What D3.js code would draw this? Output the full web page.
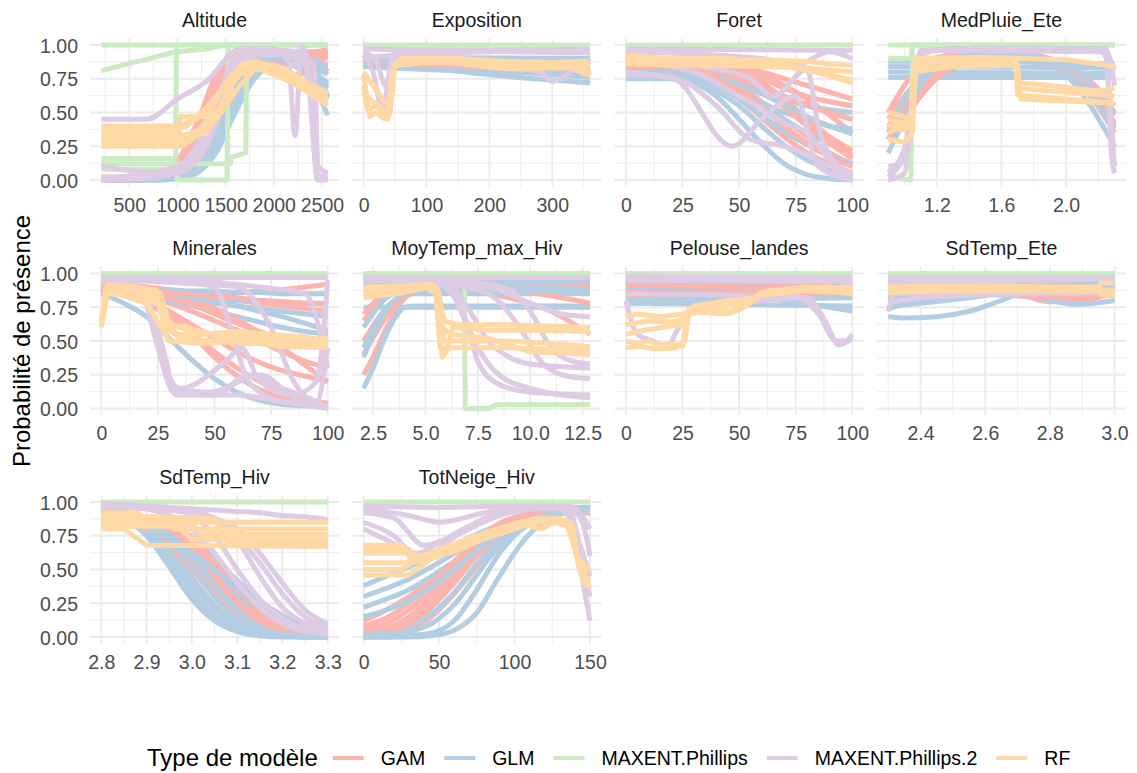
<!DOCTYPE html>
<html><head><meta charset="utf-8">
<script src="https://cdn.jsdelivr.net/npm/d3@7"></script>
<style>
body{margin:0;background:#fff;}
svg{display:block;font-family:"Liberation Sans",Arial,Helvetica,sans-serif;}
</style>
</head><body>
<svg id="chart" width="1137" height="773"></svg>
<script>
// ---------------- DATA ----------------
const models = ["GAM","GLM","MAXENT.Phillips","MAXENT.Phillips.2","RF"];
const panels = ["Altitude","Exposition","Foret","MedPluie_Ete","Minerales","MoyTemp_max_Hiv","Pelouse_landes","SdTemp_Ete","SdTemp_Hiv","TotNeige_Hiv"];
const xDomains = [[210,2560],[0,360],[0,100],[0.9,2.3],[0,100],[2.05,12.85],[0,100],[2.3,3.0],[2.8,3.3],[0,150]];
const xTicks = [[500,1000,1500,2000,2500],[0,100,200,300],[0,25,50,75,100],[1.2,1.6,2.0],[0,25,50,75,100],[2.5,5,7.5,10,12.5],[0,25,50,75,100],[2.4,2.6,2.8,3.0],[2.8,2.9,3.0,3.1,3.2,3.3],[0,50,100,150]];
const xTickLabels = [["500","1000","1500","2000","2500"],["0","100","200","300"],["0","25","50","75","100"],["1.2","1.6","2.0"],["0","25","50","75","100"],["2.5","5.0","7.5","10.0","12.5"],["0","25","50","75","100"],["2.4","2.6","2.8","3.0"],["2.8","2.9","3.0","3.1","3.2","3.3"],["0","50","100","150"]];
const yTicks = [0,0.25,0.5,0.75,1];
const yTickLabels = ["0.00","0.25","0.50","0.75","1.00"];

// Altitude
const altitudeGrid = [210,500,800,1000,1200,1400,1600,1800,2000,2200,2400,2560];
const altitude_GAM = [
 [0,0,0.02,0.1,0.4,0.78,0.93,0.96,0.96,0.95,0.95,0.97],
 [0,0,0.01,0.05,0.22,0.55,0.82,0.9,0.9,0.88,0.86,0.85],
 [0.02,0.02,0.04,0.12,0.35,0.65,0.85,0.88,0.86,0.85,0.88,0.92],
 [0,0,0.01,0.03,0.12,0.4,0.72,0.86,0.88,0.87,0.86,0.84],
 [0.01,0.01,0.03,0.08,0.3,0.7,0.9,0.92,0.9,0.9,0.93,0.95],
 [0,0,0.01,0.06,0.28,0.62,0.86,0.93,0.92,0.9,0.9,0.9],
 [0.01,0.02,0.05,0.14,0.42,0.74,0.9,0.94,0.94,0.93,0.92,0.93],
 [0,0,0.02,0.08,0.32,0.66,0.84,0.84,0.8,0.78,0.8,0.82]];
const altitude_GLM = [
 [0,0,0.01,0.03,0.1,0.3,0.6,0.82,0.88,0.85,0.72,0.48],
 [0,0,0.01,0.05,0.18,0.45,0.75,0.88,0.9,0.88,0.8,0.68],
 [0,0,0,0.01,0.05,0.2,0.5,0.75,0.85,0.86,0.8,0.72],
 [0,0.01,0.03,0.1,0.3,0.62,0.86,0.93,0.94,0.93,0.9,0.85],
 [0,0,0.02,0.06,0.2,0.52,0.8,0.9,0.9,0.86,0.78,0.6],
 [0,0,0,0.02,0.08,0.28,0.6,0.82,0.9,0.92,0.9,0.8],
 [0,0,0.01,0.04,0.14,0.38,0.68,0.86,0.9,0.88,0.82,0.7],
 [0,0,0,0.02,0.07,0.24,0.55,0.8,0.9,0.9,0.85,0.62],
 [0,0.01,0.02,0.08,0.25,0.56,0.82,0.9,0.92,0.9,0.85,0.78]];
const altitude_MAXENT = [
 [[210,1],[2560,1]],
 [[210,0.81],[600,0.88],[990,0.95],[1300,0.97],[1500,1],[2560,1]],
 [[210,0.16],[980,0.16],[990,1],[2560,1]],
 [[210,0.08],[980,0.08],[1000,0],[1515,0],[1530,1],[2560,1]],
 [[210,0.12],[1550,0.12],[1560,0.17],[1710,0.2],[1720,1],[2560,1]]];
const altitude_MAXENT2 = [
 [[210,0.45],[680,0.45],[1000,0.6],[1300,0.73],[1650,0.97],[2000,0.97],[2150,0.9],[2220,0.33],[2290,0.99],[2330,0.95],[2400,0.4],[2450,0.03],[2560,0.02]],
 [[210,0.1],[700,0.06],[1000,0.1],[1200,0.25],[1400,0.55],[1550,0.85],[1700,0.95],[2100,0.95],[2300,0.9],[2400,0.6],[2450,0.1],[2560,0.05]],
 [[210,0],[800,0.02],[1100,0.1],[1300,0.3],[1500,0.7],[1650,0.93],[2000,0.96],[2300,0.95],[2380,0.7],[2440,0.05],[2560,0]],
 [[210,0.02],[900,0.05],[1200,0.2],[1400,0.5],[1600,0.85],[1800,0.96],[2100,0.92],[2200,0.85],[2300,0.9],[2420,0.85],[2460,0.1],[2560,0.05]],
 [[210,0],[1000,0.05],[1300,0.25],[1500,0.6],[1700,0.9],[2000,0.93],[2300,0.88],[2400,0.5],[2450,0],[2560,0]]];
const altitude_RF = [
 [[210,0.38],[1000,0.38],[1100,0.4],[1250,0.5],[1400,0.6],[1500,0.72],[1600,0.8],[1750,0.82],[1900,0.85],[2000,0.8],[2150,0.75],[2300,0.7],[2450,0.6],[2560,0.62]],
 [[210,0.25],[1050,0.25],[1150,0.3],[1350,0.42],[1450,0.55],[1550,0.7],[1650,0.78],[1800,0.84],[2000,0.78],[2200,0.72],[2350,0.65],[2500,0.58],[2560,0.55]],
 [[210,0.32],[1000,0.32],[1200,0.36],[1400,0.5],[1550,0.65],[1600,0.8],[1750,0.86],[1900,0.82],[2100,0.8],[2300,0.68],[2450,0.62],[2560,0.6]],
 [[210,0.29],[1000,0.29],[1300,0.35],[1500,0.6],[1650,0.85],[1800,0.88],[2000,0.84],[2200,0.75],[2400,0.7],[2560,0.65]],
 [[210,0.35],[1020,0.35],[1030,0.47],[1300,0.47],[1450,0.65],[1600,0.78],[1800,0.83],[2000,0.8],[2250,0.72],[2450,0.62],[2560,0.58]],
 [[210,0.27],[1000,0.27],[1400,0.45],[1500,0.55],[1650,0.7],[1800,0.82],[2000,0.85],[2200,0.78],[2400,0.66],[2560,0.6]],
 [[210,0.4],[1000,0.4],[1200,0.45],[1400,0.62],[1550,0.75],[1700,0.84],[1900,0.86],[2100,0.83],[2300,0.74],[2560,0.64]]];

// Exposition
const exposition_GAM = [
 [[0,0.86],[360,0.82]],
 [[0,0.88],[100,0.86],[250,0.82],[360,0.79]],
 [[0,0.9],[200,0.88],[360,0.86]],
 [[0,0.84],[180,0.83],[360,0.8]]];
const exposition_GLM = [
 [[0,0.88],[50,0.86],[200,0.78],[360,0.72]],
 [[0,0.91],[360,0.9]],
 [[0,0.86],[100,0.84],[250,0.8],[360,0.76]],
 [[0,0.9],[50,0.89],[200,0.85],[360,0.82]],
 [[0,0.84],[200,0.8],[360,0.79]]];
const exposition_MAXENT = [[[0,1],[360,1]],[[0,0.99],[360,0.99]]];
const exposition_MAXENT2 = [
 [[0,0.93],[15,0.8],[30,0.52],[40,0.75],[50,0.93],[200,0.95],[360,0.96]],
 [[0,0.95],[20,0.88],[35,0.7],[48,0.94],[200,0.96],[360,0.97]],
 [[0,0.9],[40,0.92],[150,0.9],[280,0.8],[300,0.73],[330,0.8],[360,0.9]],
 [[0,0.97],[360,0.94]]];
const exposition_RF = [
 [[0,0.7],[5,0.55],[10,0.47],[20,0.5],[30,0.46],[38,0.45],[45,0.8],[55,0.88],[100,0.88],[200,0.87],[220,0.84],[260,0.86],[300,0.84],[340,0.86],[355,0.82],[360,0.78]],
 [[0,0.78],[5,0.62],[15,0.58],[25,0.55],[35,0.48],[42,0.5],[50,0.85],[100,0.87],[200,0.86],[240,0.85],[280,0.87],[320,0.85],[360,0.8]],
 [[0,0.65],[10,0.52],[20,0.56],[30,0.5],[40,0.47],[48,0.82],[60,0.9],[150,0.9],[220,0.88],[300,0.87],[350,0.88],[360,0.85]],
 [[0,0.8],[15,0.7],[30,0.6],[40,0.55],[50,0.86],[120,0.88],[210,0.83],[250,0.82],[290,0.83],[330,0.83],[360,0.77]]];

// Foret
const foretGrid = [0,10,20,30,40,50,60,70,80,90,100];
const foret_GAM = [
 [0.9,0.9,0.89,0.88,0.86,0.83,0.78,0.7,0.6,0.48,0.35],
 [0.85,0.85,0.84,0.82,0.78,0.7,0.58,0.45,0.32,0.2,0.12],
 [0.88,0.88,0.87,0.86,0.84,0.8,0.75,0.68,0.62,0.58,0.55],
 [0.8,0.8,0.79,0.76,0.7,0.6,0.46,0.32,0.2,0.12,0.05],
 [0.87,0.87,0.86,0.85,0.83,0.78,0.7,0.58,0.45,0.32,0.22],
 [0.82,0.82,0.82,0.8,0.78,0.74,0.68,0.62,0.56,0.5,0.45],
 [0.9,0.89,0.88,0.87,0.85,0.8,0.72,0.6,0.45,0.3,0.18],
 [0.86,0.86,0.85,0.83,0.8,0.75,0.66,0.54,0.4,0.27,0.16],
 [0.84,0.84,0.83,0.8,0.75,0.66,0.54,0.4,0.27,0.17,0.1],
 [0.89,0.89,0.88,0.87,0.86,0.84,0.8,0.75,0.7,0.65,0.6]];
const foret_GLM = [
 [0.76,0.76,0.75,0.72,0.62,0.45,0.27,0.12,0.04,0.01,0],
 [0.78,0.78,0.78,0.77,0.75,0.72,0.68,0.62,0.55,0.5,0.45],
 [0.8,0.8,0.79,0.77,0.73,0.66,0.56,0.45,0.35,0.27,0.22],
 [0.75,0.75,0.75,0.74,0.7,0.64,0.57,0.5,0.44,0.4,0.38],
 [0.83,0.83,0.82,0.8,0.77,0.72,0.66,0.6,0.55,0.52,0.5],
 [0.78,0.78,0.77,0.74,0.66,0.55,0.4,0.26,0.15,0.08,0.05],
 [0.8,0.8,0.79,0.76,0.7,0.6,0.48,0.36,0.26,0.18,0.12],
 [0.82,0.82,0.81,0.79,0.76,0.71,0.64,0.56,0.47,0.4,0.34]];
const foret_MAXENT = [[[0,1],[100,1]]];
const foret_MAXENT2 = [
 [[0,0.97],[100,0.96]],
 [[0,0.78],[20,0.76],[47,0.25],[60,0.45],[75,0.62],[85,0.1],[100,0]],
 [[0,0.8],[25,0.73],[40,0.55],[55,0.3],[70,0.25],[90,0.1],[100,0]],
 [[0,0.9],[40,0.82],[55,0.75],[65,0.62],[80,0.82],[85,0.4],[95,0.08],[100,0.02]],
 [[0,0.88],[30,0.8],[50,0.62],[58,0.55],[70,0.42],[80,0.35],[90,0.15],[100,0.05]],
 [[0,0.95],[60,0.9],[75,0.85],[90,0.95],[100,0.9]]];
const foret_RF = [
 [[0,0.92],[10,0.91],[20,0.9],[40,0.9],[60,0.89],[80,0.88],[90,0.86],[100,0.85]],
 [[0,0.88],[15,0.86],[30,0.87],[50,0.85],[70,0.84],[85,0.8],[100,0.74]],
 [[0,0.9],[20,0.88],[45,0.88],[70,0.86],[88,0.78],[100,0.72]],
 [[0,0.86],[30,0.85],[60,0.84],[80,0.83],[100,0.8]]];

// MedPluie_Ete
const medpluie_GAM = [
 [[0.9,0.45],[1.0,0.62],[1.1,0.75],[1.2,0.84],[1.4,0.92],[1.6,0.94],[1.8,0.9],[2.0,0.8],[2.15,0.62],[2.3,0.35]],
 [[0.9,0.38],[1.0,0.5],[1.1,0.65],[1.2,0.76],[1.35,0.86],[1.6,0.9],[1.8,0.88],[2.0,0.8],[2.2,0.62],[2.3,0.48]],
 [[0.9,0.5],[1.0,0.7],[1.1,0.85],[1.3,0.93],[1.6,0.95],[1.9,0.9],[2.1,0.78],[2.3,0.55]],
 [[0.9,0.4],[1.05,0.6],[1.2,0.8],[1.4,0.88],[1.7,0.9],[1.95,0.85],[2.15,0.7],[2.3,0.42]],
 [[0.9,0.3],[1.0,0.45],[1.1,0.62],[1.25,0.8],[1.45,0.88],[1.7,0.9],[1.9,0.85],[2.1,0.7],[2.3,0.4]]];
const medpluie_GLM = [
 [[0.9,0.3],[1.0,0.55],[1.1,0.78],[1.2,0.87],[1.4,0.93],[1.6,0.94],[1.8,0.9],[2.0,0.78],[2.15,0.55],[2.3,0.25]],
 [[0.9,0.76],[2.3,0.76]],
 [[0.9,0.8],[2.3,0.79]],
 [[0.9,0.84],[2.3,0.83]],
 [[0.9,0.88],[1.25,0.88],[2.3,0.86]],
 [[0.9,0.2],[1.0,0.45],[1.1,0.7],[1.25,0.86],[1.5,0.92],[1.7,0.92],[1.9,0.86],[2.1,0.7],[2.3,0.38]],
 [[0.9,0.35],[1.0,0.6],[1.15,0.82],[1.4,0.92],[1.7,0.93],[2.0,0.85],[2.2,0.65],[2.3,0.5]]];
const medpluie_MAXENT = [
 [[0.9,1],[2.3,1]],
 [[0.9,0.9],[1.04,0.9],[1.05,1],[2.3,1]],
 [[0.9,0.02],[1.04,0],[1.05,1],[2.3,1]]];
const medpluie_MAXENT2 = [
 [[0.9,0.02],[1.0,0.2],[1.05,0.6],[1.1,0.95],[1.3,0.97],[2.2,0.97],[2.25,0.9],[2.28,0.2],[2.3,0.05]],
 [[0.9,0.1],[0.98,0.12],[1.05,0.55],[1.1,0.96],[1.5,0.98],[2.24,0.97],[2.27,0.6],[2.3,0.1]],
 [[0.9,0],[1.0,0.05],[1.06,0.7],[1.12,0.96],[2.25,0.96],[2.3,0.7]],
 [[0.9,0.05],[1.02,0.3],[1.08,0.9],[1.2,0.96],[2.2,0.95],[2.26,0.92],[2.3,0.82]]];
const medpluie_RF = [
 [[0.9,0.35],[0.95,0.38],[1.0,0.37],[1.04,0.4],[1.06,0.86],[1.2,0.88],[1.5,0.89],[1.69,0.88],[1.7,0.68],[1.9,0.66],[2.1,0.64],[2.3,0.62]],
 [[0.9,0.45],[1.0,0.42],[1.05,0.5],[1.07,0.88],[1.4,0.9],[1.69,0.9],[1.7,0.63],[2.0,0.6],[2.2,0.58],[2.3,0.56]],
 [[0.9,0.3],[1.0,0.28],[1.05,0.35],[1.07,0.84],[1.3,0.87],[1.68,0.86],[1.7,0.72],[1.9,0.7],[2.2,0.66],[2.3,0.68]],
 [[0.9,0.5],[1.05,0.45],[1.07,0.9],[1.5,0.91],[2.0,0.89],[2.2,0.86],[2.3,0.84]],
 [[0.9,0.4],[1.04,0.4],[1.06,0.8],[1.3,0.84],[1.7,0.85],[1.72,0.6],[2.1,0.58],[2.3,0.57]]];

// Minerales
const mineralesGrid = [0,10,20,30,40,50,60,70,80,90,100];
const minerales_GAM = [
 [0.92,0.9,0.88,0.86,0.84,0.82,0.8,0.78,0.76,0.74,0.72],
 [0.9,0.87,0.83,0.78,0.72,0.65,0.58,0.5,0.42,0.35,0.3],
 [0.88,0.84,0.78,0.68,0.56,0.42,0.3,0.2,0.12,0.07,0.04],
 [0.9,0.88,0.86,0.84,0.8,0.74,0.66,0.56,0.45,0.32,0.2],
 [0.93,0.92,0.9,0.88,0.86,0.85,0.86,0.87,0.88,0.9,0.92],
 [0.88,0.85,0.8,0.7,0.55,0.38,0.24,0.14,0.08,0.04,0.02],
 [0.91,0.89,0.86,0.82,0.77,0.7,0.63,0.57,0.52,0.48,0.45],
 [0.9,0.86,0.8,0.72,0.62,0.52,0.42,0.34,0.28,0.24,0.2],
 [0.92,0.9,0.88,0.86,0.84,0.83,0.82,0.8,0.79,0.78,0.77]];
const minerales_GLM = [
 [0.85,0.78,0.68,0.52,0.36,0.22,0.12,0.06,0.03,0.02,0.01],
 [0.88,0.86,0.84,0.82,0.8,0.78,0.76,0.74,0.72,0.7,0.68],
 [0.9,0.87,0.84,0.8,0.76,0.72,0.68,0.64,0.6,0.57,0.55],
 [0.86,0.85,0.84,0.83,0.82,0.81,0.8,0.8,0.79,0.78,0.78],
 [0.9,0.88,0.86,0.84,0.82,0.79,0.76,0.72,0.68,0.63,0.58],
 [0.9,0.89,0.88,0.88,0.87,0.87,0.86,0.86,0.85,0.85,0.85]];
const minerales_MAXENT = [[[0,1],[100,1]]];
const minerales_MAXENT2 = [
 [[0,0.97],[100,0.97]],
 [[0,0.95],[10,0.94],[18,0.85],[25,0.45],[32,0.12],[45,0.1],[60,0.1],[80,0.05],[100,0]],
 [[0,0.96],[15,0.9],[22,0.7],[30,0.2],[35,0.15],[55,0.35],[62,0.45],[70,0.2],[85,0.1],[95,0.2],[100,0.95]],
 [[0,0.94],[20,0.8],[28,0.4],[33,0.1],[50,0.1],[65,0.25],[80,0.15],[95,0.05],[100,0]],
 [[0,0.97],[30,0.95],[50,0.9],[58,0.55],[65,0.2],[80,0.05],[100,0.02]],
 [[0,0.96],[35,0.93],[60,0.9],[75,0.6],[85,0.2],[95,0.05],[100,0.45]],
 [[0,0.97],[40,0.95],[70,0.9],[90,0.85],[100,0.3]],
 [[0,0.95],[18,0.9],[27,0.35],[34,0.15],[48,0.12],[70,0.25],[88,0.05],[100,0.02]]];
const minerales_RF = [
 [[0,0.62],[2,0.9],[8,0.88],[15,0.9],[22,0.85],[26,0.86],[30,0.62],[40,0.58],[50,0.55],[60,0.54],[75,0.52],[90,0.5],[100,0.52]],
 [[0,0.65],[2,0.88],[10,0.87],[20,0.83],[25,0.8],[28,0.6],[35,0.52],[50,0.5],[65,0.48],[80,0.5],[100,0.47]],
 [[0,0.6],[2,0.85],[12,0.84],[22,0.8],[27,0.75],[33,0.55],[45,0.55],[60,0.57],[75,0.55],[90,0.53],[100,0.5]],
 [[0,0.63],[3,0.92],[14,0.9],[24,0.88],[28,0.62],[38,0.6],[55,0.52],[70,0.5],[85,0.48],[100,0.49]],
 [[0,0.61],[3,0.87],[20,0.78],[30,0.5],[45,0.48],[60,0.5],[80,0.46],[100,0.45]]];

// MoyTemp_max_Hiv
const moytemp_GAM = [
 [[2.05,0.25],[2.5,0.38],[3,0.55],[3.5,0.7],[4,0.82],[4.5,0.88],[5,0.9],[7,0.88],[9,0.82],[11,0.72],[12.85,0.55]],
 [[2.05,0.5],[3,0.72],[4,0.85],[5,0.9],[8,0.9],[12.85,0.85]],
 [[2.05,0.65],[3,0.82],[4,0.9],[6,0.94],[9,0.95],[12.85,0.95]],
 [[2.05,0.7],[3,0.85],[4.5,0.93],[7,0.95],[10,0.93],[12.85,0.9]],
 [[2.05,0.4],[3,0.65],[4,0.82],[5,0.88],[8,0.89],[10,0.86],[12.85,0.78]]];
const moytemp_GLM = [
 [[2.05,0.75],[12.85,0.75]],
 [[2.05,0.85],[12.85,0.85]],
 [[2.05,0.92],[12.85,0.92]],
 [[2.05,0.15],[2.5,0.3],[3,0.5],[3.5,0.66],[4,0.75],[4.5,0.76],[12.85,0.76]],
 [[2.05,0.38],[2.5,0.55],[3,0.7],[3.5,0.8],[4,0.85],[5,0.87],[12.85,0.87]],
 [[2.05,0.6],[3,0.8],[4,0.88],[5,0.9],[8,0.9],[12.85,0.88]],
 [[2.05,0.45],[3,0.72],[4,0.85],[5,0.92],[7,0.93],[12.85,0.94]]];
const moytemp_MAXENT = [
 [[2.05,1],[12.85,1]],
 [[2.05,1],[6.85,1],[6.9,0],[8.0,0],[8.4,0.03],[12.85,0.03]]];
const moytemp_MAXENT2 = [
 [[2.05,0.97],[12.85,0.97]],
 [[2.05,0.97],[5,0.95],[6,0.9],[7,0.6],[7.5,0.35],[8.5,0.18],[10,0.12],[12.85,0.1]],
 [[2.05,0.96],[5.5,0.93],[6.5,0.8],[7.5,0.45],[8.5,0.25],[10,0.15],[12.85,0.08]],
 [[2.05,0.95],[6,0.92],[8,0.85],[9.5,0.6],[10.5,0.35],[11.5,0.25],[12.85,0.22]],
 [[2.05,0.97],[7,0.94],[9,0.88],[10,0.72],[11,0.45],[12,0.35],[12.85,0.33]],
 [[2.05,0.96],[8,0.9],[10,0.78],[11.5,0.7],[12.85,0.68]],
 [[2.05,0.95],[6,0.93],[7,0.75],[8,0.5],[9,0.38],[10,0.33],[12.85,0.3]]];
const moytemp_RF = [
 [[2.05,0.88],[3,0.88],[4,0.9],[5,0.92],[5.4,0.9],[5.6,0.83],[5.8,0.38],[6.0,0.42],[6.3,0.6],[8,0.58],[10,0.58],[12.85,0.57]],
 [[2.05,0.85],[3.5,0.86],[5,0.9],[5.5,0.88],[5.7,0.7],[5.9,0.5],[6.5,0.5],[9,0.5],[11,0.48],[12.85,0.46]],
 [[2.05,0.82],[4,0.86],[5.2,0.9],[5.6,0.86],[5.8,0.6],[6.2,0.55],[8,0.52],[10,0.42],[12.85,0.4]],
 [[2.05,0.9],[4.5,0.91],[5.3,0.92],[5.6,0.88],[5.9,0.65],[6.5,0.62],[9,0.62],[12.85,0.6]],
 [[2.05,0.86],[5,0.9],[5.5,0.85],[5.7,0.45],[6.3,0.45],[9,0.45],[12.85,0.43]]];

// Pelouse_landes
const pelouse_GAM = [
 [[0,0.95],[100,0.93]],
 [[0,0.9],[50,0.88],[100,0.83]],
 [[0,0.86],[100,0.85]],
 [[0,0.92],[60,0.9],[100,0.95]],
 [[0,0.82],[50,0.84],[100,0.86]]];
const pelouse_GLM = [
 [[0,0.93],[100,0.92]],
 [[0,0.88],[100,0.9]],
 [[0,0.78],[50,0.77],[100,0.76]],
 [[0,0.85],[50,0.83],[100,0.72]],
 [[0,0.8],[100,0.82]]];
const pelouse_MAXENT = [[[0,1],[100,1]]];
const pelouse_MAXENT2 = [
 [[0,0.98],[100,0.97]],
 [[0,0.8],[5,0.55],[12,0.5],[18,0.45],[22,0.56],[30,0.75],[60,0.8],[80,0.82],[88,0.65],[94,0.47],[100,0.52]],
 [[0,0.85],[40,0.84],[75,0.83],[85,0.7],[93,0.5],[97,0.5],[100,0.55]],
 [[0,0.95],[100,0.94]]];
const pelouse_RF = [
 [[0,0.5],[5,0.48],[10,0.5],[15,0.47],[20,0.48],[25,0.46],[27,0.7],[35,0.72],[45,0.7],[50,0.73],[55,0.78],[60,0.85],[70,0.86],[80,0.88],[90,0.87],[100,0.85]],
 [[0,0.55],[8,0.58],[16,0.6],[24,0.62],[27,0.72],[38,0.75],[46,0.72],[55,0.8],[62,0.86],[75,0.88],[88,0.9],[100,0.88]],
 [[0,0.62],[10,0.65],[20,0.64],[25,0.66],[28,0.74],[40,0.76],[50,0.78],[60,0.84],[72,0.86],[85,0.89],[100,0.9]],
 [[0,0.68],[5,0.7],[15,0.68],[26,0.7],[30,0.76],[45,0.8],[58,0.82],[63,0.87],[80,0.9],[100,0.87]],
 [[0,0.45],[6,0.46],[14,0.44],[22,0.45],[26,0.5],[28,0.72],[42,0.7],[50,0.74],[60,0.86],[75,0.87],[100,0.86]]];

// SdTemp_Ete
const sdete_GAM = [
 [[2.3,0.92],[2.5,0.9],[2.7,0.85],[2.8,0.79],[2.9,0.8],[3,0.86]],
 [[2.3,0.88],[2.5,0.89],[2.7,0.9],[2.9,0.93],[3,0.96]],
 [[2.3,0.85],[2.5,0.86],[2.65,0.84],[2.85,0.82],[3,0.84]],
 [[2.3,0.9],[2.6,0.93],[2.8,0.9],[3,0.88]]];
const sdete_GLM = [
 [[2.3,0.68],[2.35,0.67],[2.45,0.68],[2.55,0.72],[2.65,0.8],[2.7,0.84],[2.8,0.8],[2.88,0.77],[3,0.8]],
 [[2.3,0.74],[2.4,0.8],[2.5,0.84],[2.6,0.86],[2.8,0.87],[2.95,0.88],[3,0.92]],
 [[2.3,0.82],[2.5,0.84],[2.7,0.85],[3,0.86]],
 [[2.3,0.76],[2.4,0.78],[2.55,0.82],[2.7,0.87],[2.9,0.9],[3,0.93]],
 [[2.3,0.95],[3,0.94]]];
const sdete_MAXENT = [[[2.3,1],[3,1]]];
const sdete_MAXENT2 = [
 [[2.3,0.97],[3,0.97]],
 [[2.3,0.93],[2.5,0.94],[2.8,0.95],[3,0.96]],
 [[2.3,0.72],[2.32,0.85],[2.5,0.86],[2.8,0.87],[3,0.88]],
 [[2.3,0.78],[2.4,0.82],[2.6,0.84],[3,0.86]]];
const sdete_RF = [
 [[2.3,0.88],[2.5,0.89],[2.7,0.9],[2.9,0.89],[2.95,0.9],[2.96,0.87],[3,0.87]],
 [[2.3,0.9],[2.6,0.91],[2.8,0.9],[2.95,0.9],[2.96,0.93],[3,0.93]],
 [[2.3,0.86],[2.5,0.87],[2.8,0.87],[2.95,0.87],[2.96,0.84],[3,0.84]]];

// SdTemp_Hiv
const sdhivGrid = [2.8,2.85,2.9,2.95,3.0,3.05,3.1,3.15,3.2,3.25,3.3];
const sdhiv_GAM = [
 [0.9,0.88,0.84,0.76,0.6,0.4,0.22,0.1,0.05,0.02,0.01],
 [0.88,0.87,0.85,0.8,0.68,0.5,0.3,0.15,0.07,0.03,0.02],
 [0.87,0.86,0.82,0.72,0.55,0.35,0.18,0.08,0.03,0.01,0.01],
 [0.9,0.89,0.87,0.83,0.74,0.58,0.38,0.2,0.1,0.05,0.03],
 [0.89,0.88,0.86,0.8,0.66,0.46,0.26,0.12,0.05,0.02,0.01],
 [0.86,0.85,0.8,0.68,0.5,0.3,0.15,0.06,0.02,0.01,0],
 [0.88,0.87,0.86,0.82,0.72,0.55,0.35,0.18,0.08,0.04,0.02]];
const sdhiv_GLM = [
 [0.92,0.88,0.78,0.58,0.34,0.15,0.06,0.02,0.01,0,0],
 [0.94,0.9,0.82,0.66,0.44,0.24,0.1,0.04,0.02,0.01,0],
 [0.95,0.93,0.88,0.78,0.6,0.38,0.2,0.09,0.04,0.02,0.01],
 [0.9,0.86,0.8,0.72,0.6,0.45,0.3,0.18,0.1,0.06,0.04],
 [0.93,0.91,0.88,0.82,0.72,0.58,0.42,0.27,0.16,0.1,0.06],
 [0.92,0.87,0.75,0.52,0.28,0.12,0.04,0.01,0,0,0],
 [0.93,0.9,0.82,0.64,0.4,0.2,0.08,0.03,0.01,0,0],
 [0.94,0.92,0.86,0.72,0.52,0.3,0.14,0.06,0.02,0.01,0],
 [0.91,0.88,0.83,0.74,0.62,0.5,0.36,0.22,0.12,0.07,0.05]];
const sdhiv_MAXENT = [[1,1,1,1,1,1,1,1,1,1,1]];
const sdhiv_MAXENT2 = [
 [0.99,0.98,0.97,0.96,0.95,0.94,0.93,0.92,0.9,0.89,0.87],
 [0.98,0.98,0.97,0.95,0.9,0.75,0.5,0.28,0.14,0.06,0.03],
 [0.97,0.97,0.96,0.95,0.93,0.88,0.72,0.45,0.22,0.1,0.05],
 [0.98,0.97,0.95,0.9,0.8,0.62,0.4,0.22,0.1,0.04,0.02],
 [0.96,0.96,0.95,0.94,0.92,0.88,0.8,0.62,0.4,0.2,0.1],
 [0.97,0.96,0.95,0.94,0.92,0.86,0.74,0.55,0.32,0.15,0.07]];
const sdhiv_RF = [
 [[2.8,0.92],[2.88,0.92],[2.9,0.85],[3.3,0.85]],
 [[2.8,0.88],[2.95,0.88],[2.96,0.8],[3.3,0.8]],
 [[2.8,0.82],[2.97,0.82],[3.0,0.72],[3.3,0.72]],
 [[2.8,0.86],[3.0,0.84],[3.02,0.76],[3.3,0.76]],
 [[2.8,0.8],[2.85,0.8],[2.9,0.68],[3.3,0.67]],
 [[2.8,0.9],[3.05,0.88],[3.08,0.7],[3.3,0.7]]];

// TotNeige_Hiv
const neigeGrid = [0,15,30,45,60,75,90,105,120,135,145,150];
const neige_GAM = [
 [0,0.05,0.12,0.25,0.45,0.65,0.8,0.88,0.92,0.93,0.93,0.93],
 [0.05,0.1,0.2,0.35,0.52,0.68,0.8,0.88,0.91,0.92,0.92,0.92],
 [0.12,0.2,0.3,0.42,0.56,0.7,0.82,0.9,0.94,0.95,0.95,0.95],
 [0,0.02,0.06,0.15,0.32,0.52,0.7,0.83,0.9,0.92,0.92,0.92],
 [0.02,0.06,0.15,0.3,0.5,0.7,0.84,0.9,0.93,0.94,0.94,0.94],
 [0.08,0.14,0.25,0.4,0.56,0.72,0.84,0.9,0.92,0.93,0.93,0.93],
 [0.01,0.03,0.1,0.22,0.4,0.6,0.76,0.86,0.9,0.92,0.92,0.92]];
const neige_GLM = [
 [0,0,0.01,0.03,0.12,0.35,0.62,0.8,0.88,0.93,0.95,0.95],
 [0.38,0.45,0.52,0.6,0.68,0.76,0.83,0.88,0.92,0.95,0.96,0.96],
 [0.3,0.36,0.43,0.52,0.62,0.72,0.8,0.87,0.91,0.94,0.95,0.95],
 [0.22,0.28,0.35,0.45,0.56,0.68,0.78,0.86,0.9,0.93,0.94,0.94],
 [0.02,0.04,0.08,0.17,0.33,0.54,0.72,0.85,0.92,0.95,0.96,0.96],
 [0,0,0,0.01,0.05,0.18,0.45,0.7,0.86,0.93,0.95,0.95],
 [0.15,0.2,0.27,0.37,0.5,0.64,0.76,0.85,0.9,0.93,0.94,0.94],
 [0.01,0.02,0.04,0.1,0.24,0.46,0.68,0.83,0.9,0.93,0.94,0.94]];
const neige_MAXENT = [[[0,1],[150,1]]];
const neige_MAXENT2 = [
 [[0,0.97],[50,0.96],[100,0.97],[135,0.97],[145,0.9],[150,0.8]],
 [[0,0.85],[20,0.75],[38,0.57],[55,0.7],[80,0.88],[110,0.95],[130,0.95],[140,0.75],[147,0.3],[150,0.12]],
 [[0,0.8],[15,0.72],[35,0.62],[50,0.7],[75,0.85],[100,0.93],[128,0.96],[138,0.9],[145,0.55],[150,0.3]],
 [[0,0.92],[20,0.88],[40,0.68],[60,0.75],[90,0.9],[120,0.96],[135,0.95],[143,0.7],[150,0.45]],
 [[0,0.95],[30,0.9],[50,0.85],[80,0.92],[115,0.97],[135,0.96],[145,0.85],[150,0.6]]];
const neige_RF = [
 [[0,0.68],[25,0.68],[30,0.6],[40,0.55],[50,0.62],[60,0.66],[70,0.72],[80,0.76],[90,0.8],[100,0.82],[110,0.85],[120,0.86],[130,0.85],[138,0.8],[142,0.55],[145,0.45],[150,0.42]],
 [[0,0.46],[30,0.46],[35,0.5],[45,0.58],[55,0.62],[65,0.68],[80,0.74],[95,0.8],[110,0.84],[125,0.86],[135,0.82],[140,0.65],[145,0.5],[150,0.5]],
 [[0,0.55],[28,0.55],[38,0.6],[50,0.65],[65,0.7],[85,0.78],[100,0.84],[115,0.88],[130,0.88],[138,0.84],[143,0.5],[147,0.38],[150,0.4]],
 [[0,0.62],[30,0.62],[40,0.58],[55,0.64],[70,0.7],[90,0.78],[105,0.84],[118,0.8],[128,0.86],[137,0.82],[141,0.6],[150,0.48]],
 [[0,0.5],[25,0.5],[32,0.55],[48,0.6],[62,0.64],[78,0.72],[95,0.78],[112,0.85],[125,0.88],[135,0.84],[142,0.58],[150,0.36]],
 [[0,0.65],[30,0.65],[36,0.56],[46,0.6],[58,0.68],[72,0.74],[88,0.8],[102,0.83],[115,0.87],[128,0.84],[136,0.83],[141,0.62],[146,0.4],[150,0.4]]];

// ---------------- ASSEMBLY ----------------
const panelData = [
 {grid: altitudeGrid, curves: [altitude_GAM, altitude_GLM, altitude_MAXENT, altitude_MAXENT2, altitude_RF]},
 {grid: null, curves: [exposition_GAM, exposition_GLM, exposition_MAXENT, exposition_MAXENT2, exposition_RF]},
 {grid: foretGrid, curves: [foret_GAM, foret_GLM, foret_MAXENT, foret_MAXENT2, foret_RF]},
 {grid: null, curves: [medpluie_GAM, medpluie_GLM, medpluie_MAXENT, medpluie_MAXENT2, medpluie_RF]},
 {grid: mineralesGrid, curves: [minerales_GAM, minerales_GLM, minerales_MAXENT, minerales_MAXENT2, minerales_RF]},
 {grid: null, curves: [moytemp_GAM, moytemp_GLM, moytemp_MAXENT, moytemp_MAXENT2, moytemp_RF]},
 {grid: null, curves: [pelouse_GAM, pelouse_GLM, pelouse_MAXENT, pelouse_MAXENT2, pelouse_RF]},
 {grid: null, curves: [sdete_GAM, sdete_GLM, sdete_MAXENT, sdete_MAXENT2, sdete_RF]},
 {grid: sdhivGrid, curves: [sdhiv_GAM, sdhiv_GLM, sdhiv_MAXENT, sdhiv_MAXENT2, sdhiv_RF]},
 {grid: neigeGrid, curves: [neige_GAM, neige_GLM, neige_MAXENT, neige_MAXENT2, neige_RF]}
];

// ---------------- STYLE / LAYOUT ----------------
const colors = d3.scaleOrdinal().domain(models).range(["#FBB4AE","#B3CDE3","#CCEBC5","#DECBE4","#FED9A6"]);
const smooth = {"GAM":true,"GLM":true,"MAXENT.Phillips":false,"MAXENT.Phillips.2":true,"RF":false};
const ncol = 4, panelW = 249, panelH = 148.5, left0 = 90, top0 = 38.25, colStep = 262.3, rowStep = 228.5;
const fontTick = 19.5, fontStrip = 19.5;

const svg = d3.select("#chart");
svg.append("rect").attr("width",1137).attr("height",773).attr("fill","#fff");

panels.forEach((name, i) => {
  const col = i % ncol, row = Math.floor(i / ncol);
  const x0 = left0 + col*colStep, y0 = top0 + row*rowStep;
  const [d0, d1] = xDomains[i];
  const pad = (d1 - d0) * 0.05;
  const x = d3.scaleLinear().domain([d0 - pad, d1 + pad]).range([0, panelW]);
  const y = d3.scaleLinear().domain([-0.05, 1.05]).range([panelH, 0]);
  const g = svg.append("g").attr("transform", `translate(${x0},${y0})`);

  const ticks = xTicks[i];
  const step = ticks[1] - ticks[0];
  const minorX = [];
  for (let k = -1; k < ticks.length; k++) {
    const v = ticks[0] + (k + 0.5) * step;
    const [a, b] = x.domain();
    if (v >= a && v <= b) minorX.push(v);
  }
  const minorY = [0.125, 0.375, 0.625, 0.875];
  g.selectAll(".mx").data(minorX).join("line")
    .attr("x1", d => x(d)).attr("x2", d => x(d)).attr("y1", 0).attr("y2", panelH)
    .attr("stroke", "#EBEBEB").attr("stroke-width", 0.9);
  g.selectAll(".my").data(minorY).join("line")
    .attr("x1", 0).attr("x2", panelW).attr("y1", d => y(d)).attr("y2", d => y(d))
    .attr("stroke", "#EBEBEB").attr("stroke-width", 0.9);
  g.selectAll(".Mx").data(ticks).join("line")
    .attr("x1", d => x(d)).attr("x2", d => x(d)).attr("y1", 0).attr("y2", panelH)
    .attr("stroke", "#EBEBEB").attr("stroke-width", 1.8);
  g.selectAll(".My").data(yTicks).join("line")
    .attr("x1", 0).attr("x2", panelW).attr("y1", d => y(d)).attr("y2", d => y(d))
    .attr("stroke", "#EBEBEB").attr("stroke-width", 1.8);

  // curves: GAM and GLM interleaved, then the other models
  const pd = panelData[i];
  const lines = {};
  models.forEach(m => {
    lines[m] = d3.line().x(p => x(p[0])).y(p => y(p[1]))
      .curve(smooth[m] ? d3.curveMonotoneX : d3.curveLinear);
  });
  const order = [];
  const nGG = Math.max(pd.curves[0].length, pd.curves[1].length);
  for (let r = 0; r < nGG; r++) {
    if (pd.curves[0][r]) order.push([0, pd.curves[0][r]]);
    if (pd.curves[1][r]) order.push([1, pd.curves[1][r]]);
  }
  [2, 3, 4].forEach(mi => pd.curves[mi].forEach(c => order.push([mi, c])));
  order.forEach(([mi, c]) => {
    const m = models[mi];
    const pts = (typeof c[0] === "number") ? c.map((v, k) => [pd.grid[k], v]) : c;
    g.append("path").attr("d", lines[m](pts)).attr("fill", "none")
      .attr("stroke", colors(m)).attr("stroke-width", 5)
      .attr("stroke-linejoin", "round").attr("stroke-linecap", "butt");
  });

  g.append("text").attr("x", panelW/2).attr("y", -11.5).attr("text-anchor", "middle")
    .attr("font-size", fontStrip).attr("fill", "#1A1A1A").text(name);

  const xa = d3.axisBottom(x).tickValues(ticks).tickSize(0).tickPadding(0)
    .tickFormat((d, k) => xTickLabels[i][k]);
  const ax = g.append("g").attr("transform", `translate(0,${panelH})`).call(xa);
  ax.select(".domain").remove();
  ax.selectAll("text").attr("y", 25).attr("dy", null).attr("font-size", fontTick)
    .attr("fill", "#4D4D4D").attr("font-family", "Liberation Sans, Arial, sans-serif");

  if (col === 0) {
    const ya = d3.axisLeft(y).tickValues(yTicks).tickSize(0).tickPadding(0)
      .tickFormat((d, k) => yTickLabels[k]);
    const ay = g.append("g").call(ya);
    ay.select(".domain").remove();
    ay.selectAll("text").attr("x", -12).attr("dy", "0.36em").attr("font-size", fontTick)
      .attr("fill", "#4D4D4D").attr("font-family", "Liberation Sans, Arial, sans-serif");
  }
});

svg.append("text").attr("transform", "translate(30,341) rotate(-90)")
  .attr("text-anchor", "middle").attr("font-size", 24).attr("fill", "#000")
  .text("Probabilité de présence");

const leg = svg.append("g");
const ly = 758;
const title = leg.append("text").attr("x", 147).attr("y", ly).attr("dy", "0.35em")
  .attr("font-size", 24).attr("fill", "#000").text("Type de modèle");
let lx = 147 + title.node().getComputedTextLength() + 15;
models.forEach(m => {
  leg.append("line").attr("x1", lx).attr("x2", lx + 31).attr("y1", ly).attr("y2", ly)
    .attr("stroke", colors(m)).attr("stroke-width", 4);
  const t = leg.append("text").attr("x", lx + 31 + 17).attr("y", ly).attr("dy", "0.35em")
    .attr("font-size", 19.5).attr("fill", "#000").text(m);
  lx = lx + 31 + 17 + t.node().getComputedTextLength() + 19;
});
</script>
</body></html>
